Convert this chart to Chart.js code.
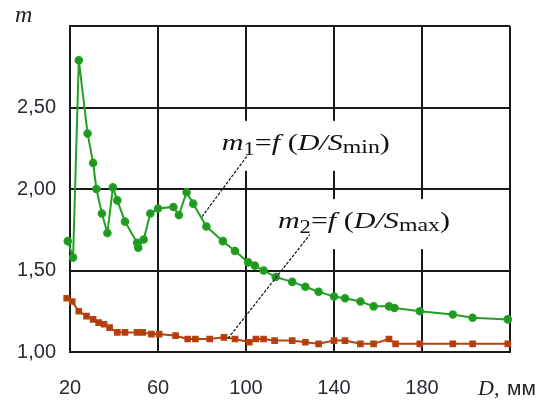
<!DOCTYPE html>
<html>
<head>
<meta charset="utf-8">
<script src="https://cdn.jsdelivr.net/npm/chart.js@4.4.1/dist/chart.umd.min.js"></script>
<style>
  html, body { margin: 0; padding: 0; background: #fff; }
</style>
</head>
<body>
<canvas id="myChart" width="544" height="401"></canvas>
<script>
// m1 = f(D/Smin)
const dMin = [19, 21.4, 24, 28, 30.5, 32, 34.5, 37, 39.5, 41.5, 45, 50.5, 51, 53.5, 56.5, 60, 67, 69.5, 73, 76,
  82, 89.5, 95, 101, 104, 108, 113.5, 121, 127, 133, 140, 145, 152, 158, 165, 167.5, 179, 194, 203, 219];
const mMin = [1.68, 1.58, 2.79, 2.34, 2.16, 2.00, 1.85, 1.73, 2.01, 1.93, 1.80, 1.67, 1.64, 1.69, 1.85, 1.88, 1.89, 1.84, 1.98, 1.91,
  1.77, 1.68, 1.62, 1.55, 1.53, 1.50, 1.46, 1.43, 1.40, 1.37, 1.34, 1.33, 1.31, 1.28, 1.28, 1.27, 1.25, 1.23, 1.21, 1.20];

// m2 = f(D/Smax)
const dMax = [18.5, 21, 24, 27.5, 30.5, 33, 35.5, 38, 41.5, 45, 50.5, 53, 57, 60.5, 68, 73.5, 77, 83.5, 90, 95,
  101.5, 104.5, 108, 113, 121, 127, 133, 140, 145, 152, 158, 165, 168, 179, 194, 203, 219];
const mMax = [1.33, 1.31, 1.25, 1.22, 1.20, 1.18, 1.17, 1.15, 1.12, 1.12, 1.12, 1.12, 1.11, 1.11, 1.10, 1.08, 1.08, 1.08, 1.09, 1.08,
  1.06, 1.08, 1.08, 1.07, 1.07, 1.06, 1.05, 1.07, 1.07, 1.05, 1.05, 1.08, 1.05, 1.05, 1.05, 1.05, 1.05];

const xTicks = [20, 60, 100, 140, 180, 220];
const yTicks = [1.0, 1.5, 2.0, 2.5, 3.0];

const serif = 'Liberation Serif';
const sans = 'Liberation Sans';

// annotation text: [left D, baseline m, target width px], leader line [D1, m1, D2, m2]
const notes = [
  { at: [89, 2.24], width: 168, sub1: '1', sub2: 'min', leader: [80, 1.83, 100.9, 2.21] },
  { at: [114.5, 1.76], width: 172, sub1: '2', sub2: 'max', leader: [91.8, 1.083, 129, 1.72] }
];

function richText(ctx, x, y, width, parts) {
  let w = 0;
  parts.forEach(p => { ctx.font = p.font; w += ctx.measureText(p.t).width; });
  const k = width / w;
  ctx.save();
  ctx.translate(x, y);
  ctx.scale(k, 1);
  let cx = 0;
  parts.forEach(p => {
    ctx.font = p.font;
    ctx.fillText(p.t, cx, p.dy || 0);
    cx += ctx.measureText(p.t).width;
  });
  ctx.restore();
}

const notesPlugin = {
  id: 'notes',
  afterDatasetsDraw(chart) {
    const ctx = chart.ctx;
    const xs = chart.scales.x, ys = chart.scales.y;
    ctx.save();
    notes.forEach(n => {
      const x = xs.getPixelForValue(n.at[0]);
      const y = ys.getPixelForValue(n.at[1]);
      ctx.fillStyle = '#fff';
      ctx.fillRect(x - 6, y - 29, n.width + 12, 50);
      ctx.strokeStyle = '#111';
      ctx.lineWidth = 1.2;
      ctx.setLineDash([3, 1.5]);
      ctx.beginPath();
      ctx.moveTo(xs.getPixelForValue(n.leader[0]), ys.getPixelForValue(n.leader[1]));
      ctx.lineTo(xs.getPixelForValue(n.leader[2]), ys.getPixelForValue(n.leader[3]));
      ctx.stroke();
      ctx.setLineDash([]);
      ctx.fillStyle = '#111';
      ctx.textBaseline = 'alphabetic';
      ctx.textAlign = 'left';
      richText(ctx, x, y, n.width, [
        { t: 'm', font: 'italic 24px ' + serif },
        { t: n.sub1, font: '18px ' + serif, dy: 5 },
        { t: '=', font: '24px ' + serif },
        { t: 'f', font: 'italic 24px ' + serif },
        { t: ' (', font: '24px ' + serif },
        { t: 'D/S', font: 'italic 24px ' + serif },
        { t: n.sub2, font: '19px ' + serif, dy: 3 },
        { t: ')', font: '24px ' + serif }
      ]);
    });
    // axis names
    ctx.fillStyle = '#222';
    ctx.font = 'italic 24px ' + serif;
    ctx.fillText('m', 15, 22);
    ctx.font = 'italic 22px ' + serif;
    ctx.fillText('D,', 478, 395);
    ctx.font = '21px ' + sans;
    ctx.fillText('мм', 507, 395);
    ctx.restore();
  }
};

const ctx = document.getElementById('myChart').getContext('2d');
const myChart = new Chart(ctx, {
  type: 'line',
  data: {
    datasets: [{
      label: 'm1',
      data: dMin.map((d, i) => ({ x: d, y: mMin[i] })),
      borderColor: '#23a023',
      backgroundColor: '#1f961f',
      borderWidth: 2,
      pointRadius: 3.3,
      pointStyle: 'circle',
      clip: false
    }, {
      label: 'm2',
      data: dMax.map((d, i) => ({ x: d, y: mMax[i] })),
      borderColor: '#b5420f',
      backgroundColor: '#ad3c0c',
      borderWidth: 2,
      pointRadius: 3.3,
      pointStyle: 'rect',
      clip: false
    }]
  },
  options: {
    responsive: false,
    animation: false,
    devicePixelRatio: 1,
    layout: { padding: { top: 15, right: 34, left: 0, bottom: 0 } },
    plugins: {
      legend: { display: false },
      tooltip: { enabled: false }
    },
    scales: {
      x: {
        type: 'linear',
        min: 20,
        max: 220,
        afterFit: s => { s.height = 49; },
        afterBuildTicks: s => { s.ticks = xTicks.map(v => ({ value: v })); },
        grid: { color: '#1a1a1a', lineWidth: 2, drawTicks: false },
        border: { color: '#1a1a1a', width: 2 },
        ticks: {
          padding: 24,
          color: '#2a2a33',
          font: { family: sans, size: 20 },
          callback: v => (v === 220 ? '' : String(v))
        }
      },
      y: {
        min: 1,
        max: 3,
        afterFit: s => { s.width = 70; },
        afterBuildTicks: s => { s.ticks = yTicks.map(v => ({ value: v })); },
        grid: { color: '#1a1a1a', lineWidth: 2, drawTicks: false },
        border: { color: '#1a1a1a', width: 2 },
        ticks: {
          padding: 14,
          color: '#2a2a33',
          font: { family: sans, size: 20 },
          callback: v => (v === 3 ? '' : v.toFixed(2).replace('.', ','))
        }
      }
    }
  },
  plugins: [notesPlugin]
});
</script>
</body>
</html>
